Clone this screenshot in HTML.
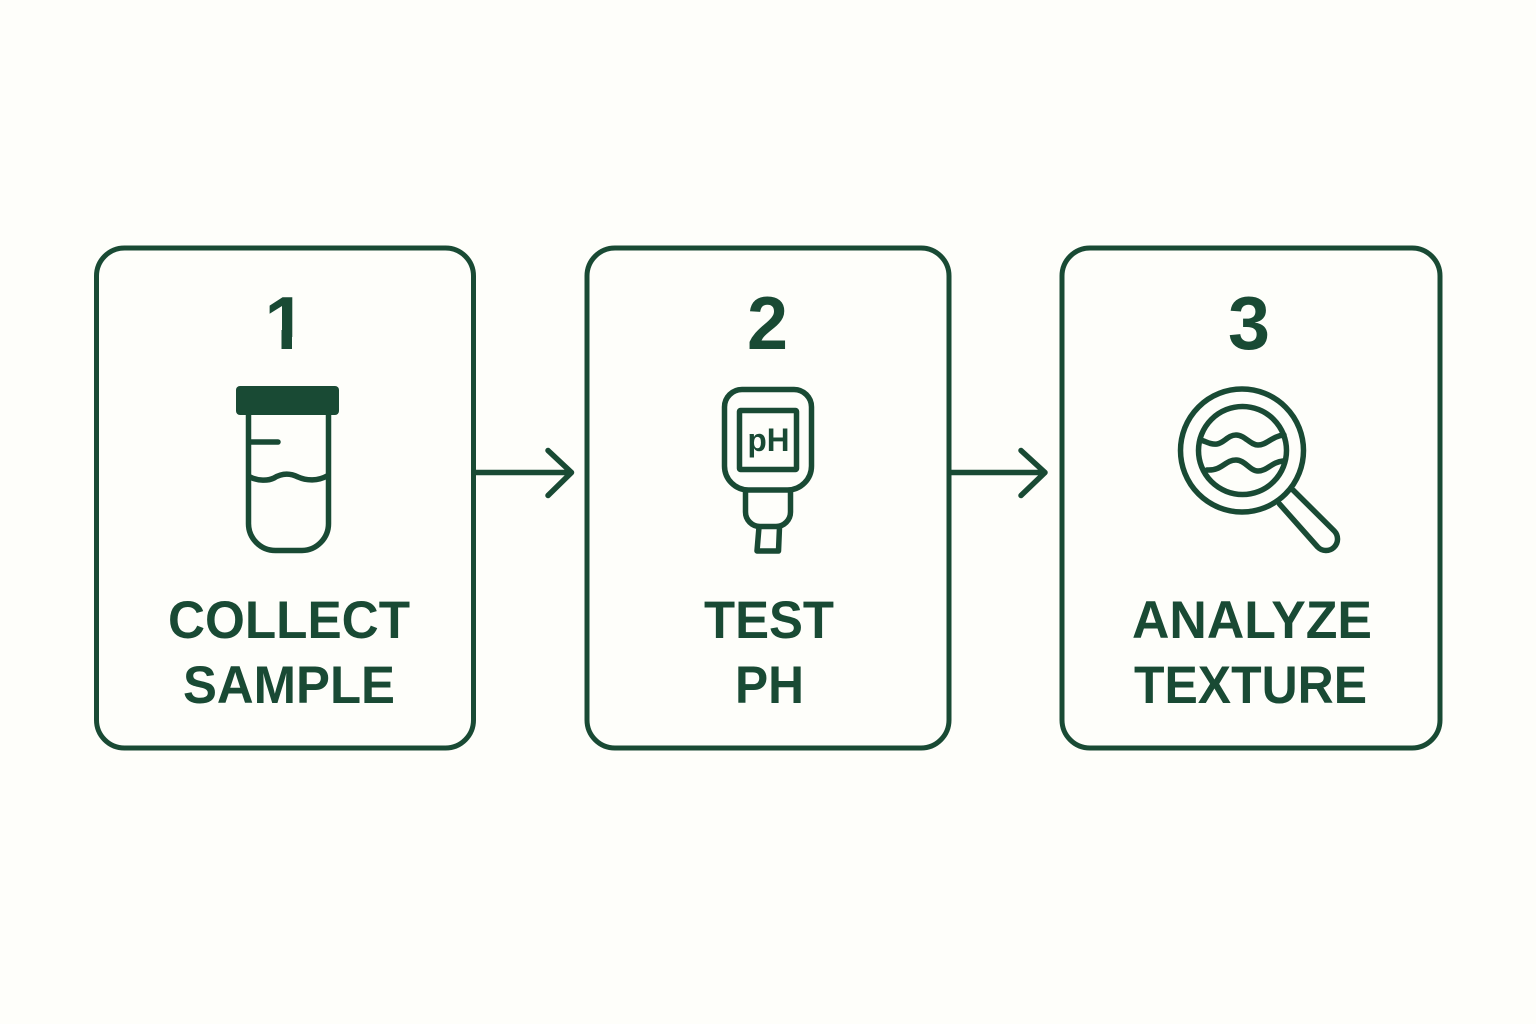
<!DOCTYPE html>
<html><head><meta charset="utf-8"><style>
html,body{margin:0;padding:0;background:#fefefa}
svg{display:block}
text{font-family:"Liberation Sans",sans-serif;font-weight:700;fill:#194a34}
.s{fill:none;stroke:#194a34;stroke-width:5.5;stroke-linecap:round;stroke-linejoin:round}
</style></head><body>
<svg width="1536" height="1024" viewBox="0 0 1536 1024" xmlns="http://www.w3.org/2000/svg">
<defs><clipPath id="noFoot"><rect x="255" y="285" width="50" height="52"/></clipPath></defs>
<rect width="1536" height="1024" fill="#fefefa"/>
<rect class="s" x="96.500" y="248" width="377" height="500" rx="28" style="stroke-width:5"/>
<rect class="s" x="587" y="248" width="362" height="500" rx="28" style="stroke-width:5"/>
<rect class="s" x="1062" y="248" width="378" height="500" rx="28" style="stroke-width:5"/>

<path class="s" d="M475 472.500H571.500M548 450.500L571.500 472.500L548 495.500"/>
<path class="s" d="M951 472.500H1045M1021 450.500L1045 472.500L1021 495.500"/>

<text x="264.500" y="349" font-size="75" clip-path="url(#noFoot)">1</text>
<rect x="281.500" y="330" width="10.500" height="19" fill="#194a34"/>
<text x="747" y="349" font-size="75" textLength="41" lengthAdjust="spacingAndGlyphs">2</text>
<text x="1228" y="349" font-size="75" textLength="42" lengthAdjust="spacingAndGlyphs">3</text>

<!-- vial -->
<rect x="236" y="386" width="103" height="29" rx="4" fill="#194a34"/>
<path class="s" d="M248.500 413V523A27 27 0 0 0 275.500 550.500H302A27 27 0 0 0 328.500 523V413"/>
<path class="s" d="M250 442H278"/>
<path class="s" d="M250 477C258 481 268 481 274 478C282 473 290 473 298 477C307 481 318 481 327 476"/>

<!-- pH meter -->
<path class="s" d="M742 389.500H794A17.500 17.500 0 0 1 811.500 407V466A24 24 0 0 1 787.500 490H748.500A24 24 0 0 1 724.500 466V407A17.500 17.500 0 0 1 742 389.500Z"/>
<rect class="s" x="739.500" y="410.500" width="57" height="59" rx="1"/>
<text x="747.500" y="451" font-size="32" textLength="42" lengthAdjust="spacingAndGlyphs">pH</text>
<path class="s" d="M745.500 490V512A14.500 14.500 0 0 0 760 526.500H776A14.500 14.500 0 0 0 790.500 512V490"/>
<path class="s" d="M759 527L757 551H778.500L779.500 527"/>

<!-- magnifier -->
<circle class="s" cx="1242" cy="450.500" r="61.500"/>
<circle class="s" cx="1242.500" cy="450.500" r="44"/>
<path class="s" d="M1200 440C1206 441 1210 445 1217 444C1224 443 1228 435 1236 435C1245 435 1250 445 1258 445C1267 445 1272 436 1284 435"/>
<path class="s" d="M1207 470C1222 471 1225 460 1236 460C1245 460 1250 471 1258 471C1267 471 1272 462 1283 461"/>
<path class="s" d="M1279.500 504L1317.700 547A11.500 11.500 0 0 0 1334.300 531L1293 490"/>

<!-- labels -->
<text x="168" y="638" font-size="53" textLength="242" lengthAdjust="spacingAndGlyphs">COLLECT</text>
<text x="183" y="703" font-size="53" textLength="212" lengthAdjust="spacingAndGlyphs">SAMPLE</text>
<text x="704" y="638" font-size="53" textLength="130" lengthAdjust="spacingAndGlyphs">TEST</text>
<text x="735" y="703" font-size="53" textLength="69" lengthAdjust="spacingAndGlyphs">PH</text>
<text x="1132" y="638" font-size="53" textLength="240" lengthAdjust="spacingAndGlyphs">ANALYZE</text>
<text x="1134" y="703" font-size="53" textLength="233" lengthAdjust="spacingAndGlyphs">TEXTURE</text>
</svg>
</body></html>
